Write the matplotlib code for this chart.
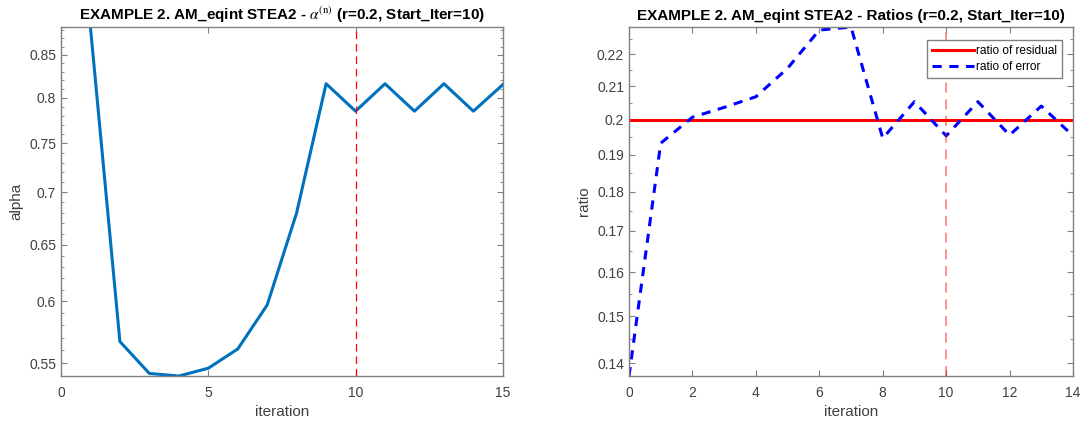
import matplotlib
matplotlib.use("Agg")
import matplotlib.pyplot as plt
from matplotlib.ticker import FixedLocator, MultipleLocator, NullFormatter

plt.rcParams['font.family'] = ['Liberation Sans', 'DejaVu Sans']
plt.rcParams['mathtext.fontset'] = 'stix'

# left panel: alpha per iteration
alpha_iter = [1, 2, 3, 4, 5, 6, 7, 8, 9, 10, 11, 12, 13, 14, 15]
alpha_vals = [0.884, 0.567, 0.542, 0.540, 0.546, 0.561, 0.597, 0.680, 0.816,
              0.785, 0.816, 0.785, 0.816, 0.785, 0.815]
alpha_ticks = [0.55, 0.6, 0.65, 0.7, 0.75, 0.8, 0.85]
alpha_ticklabels = ['0.55', '0.6', '0.65', '0.7', '0.75', '0.8', '0.85']

# right panel: ratios per iteration
ratio_iter = [0, 1, 2, 3, 4, 5, 6, 7, 8, 9, 10, 11, 12, 13, 14]
ratio_error = [0.1374, 0.1932, 0.2007, 0.2036, 0.2068, 0.2156, 0.2280, 0.2290,
               0.1946, 0.2053, 0.1953, 0.2053, 0.1955, 0.2040, 0.1953]
ratio_residual = [0.2] * len(ratio_iter)
ratio_ticks = [0.14, 0.15, 0.16, 0.17, 0.18, 0.19, 0.2, 0.21, 0.22]
ratio_ticklabels = ['0.14', '0.15', '0.16', '0.17', '0.18', '0.19', '0.2', '0.21', '0.22']

start_iter = 10
axis_grey = '#808080'
text_grey = '#404040'


def style_axes(ax):
    for s in ax.spines.values():
        s.set_color(axis_grey)
        s.set_linewidth(1.0)
    ax.tick_params(which='both', direction='in', top=True, right=True,
                   color=axis_grey, labelcolor=text_grey, labelsize=10)
    ax.tick_params(which='major', length=4)
    ax.tick_params(which='minor', length=2)
    ax.tick_params(axis='x', pad=7)


fig = plt.figure(figsize=(10.83, 4.23), dpi=100)
ax1 = fig.add_axes([0.0563, 0.111, 0.408, 0.825])
ax2 = fig.add_axes([0.5808, 0.111, 0.410, 0.825])

# left panel
ax1.plot(alpha_iter, alpha_vals, color='#0072BD', linewidth=2.2)
ax1.axvline(start_iter, color='#ff0000', linestyle=(0, (6, 4)), linewidth=0.9)
ax1.set_yscale('log')
ax1.set_xlim(0, 15)
ax1.set_ylim(min(alpha_vals), max(alpha_vals))
ax1.xaxis.set_major_locator(MultipleLocator(5))
ax1.yaxis.set_major_locator(FixedLocator(alpha_ticks))
ax1.set_yticklabels(alpha_ticklabels)
ax1.yaxis.set_minor_locator(MultipleLocator(0.01))
ax1.yaxis.set_minor_formatter(NullFormatter())
style_axes(ax1)
ax1.set_xlabel('iteration', fontsize=11, color=text_grey, labelpad=4)
ax1.set_ylabel('alpha', fontsize=11, color=text_grey, labelpad=4)
ax1.set_title(r'EXAMPLE 2. AM_eqint STEA2 - $\alpha^{\mathrm{(n)}}$ (r=0.2, Start_Iter=10)',
              fontsize=11, fontweight='bold', pad=5)

# right panel
ax2.plot(ratio_iter, ratio_residual, color='#ff0000', linewidth=2.2,
         label='ratio of residual')
ax2.plot(ratio_iter, ratio_error, color='#0000ff', linewidth=2.2,
         linestyle=(0, (3, 2.5)), label='ratio of error')
ax2.axvline(start_iter, color='#ff0000', alpha=0.5, linestyle=(0, (6, 4)),
            linewidth=1.2)
ax2.set_yscale('log')
ax2.set_xlim(0, 14)
ax2.set_ylim(min(ratio_error), max(ratio_error))
ax2.xaxis.set_major_locator(MultipleLocator(2))
ax2.yaxis.set_major_locator(FixedLocator(ratio_ticks))
ax2.set_yticklabels(ratio_ticklabels)
ax2.yaxis.set_minor_locator(MultipleLocator(0.005))
ax2.yaxis.set_minor_formatter(NullFormatter())
style_axes(ax2)
ax2.set_xlabel('iteration', fontsize=11, color=text_grey, labelpad=4)
ax2.set_ylabel('ratio', fontsize=11, color=text_grey, labelpad=4)
ax2.set_title('EXAMPLE 2. AM_eqint STEA2 - Ratios (r=0.2, Start_Iter=10)',
              fontsize=11, fontweight='bold', pad=5)
leg = ax2.legend(loc='upper right', fontsize=8.6, frameon=True, fancybox=False,
                 edgecolor=axis_grey, framealpha=1, borderpad=0.4,
                 borderaxespad=0, handlelength=3.5, handletextpad=0.2,
                 labelspacing=0.35, bbox_to_anchor=(0.975, 0.963))
leg.get_frame().set_linewidth(1.0)

fig.savefig('out.png', dpi=100)
